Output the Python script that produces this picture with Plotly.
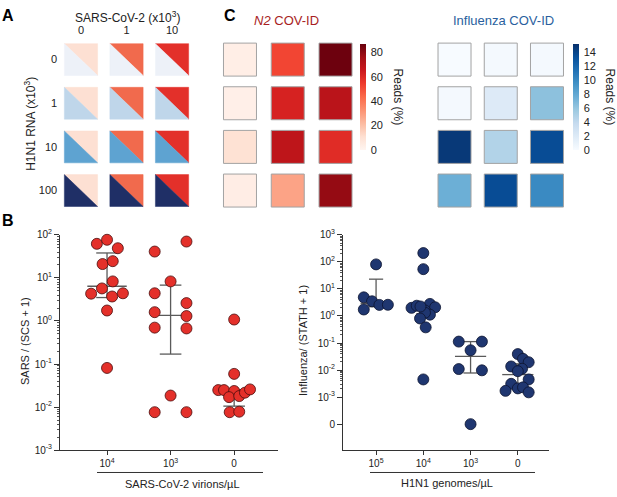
import plotly.graph_objects as go
from plotly.colors import sequential

W, H = 617, 497
FONT = "Liberation Sans, Arial, sans-serif"

# ---- panel A: mixing design ----
sars_levels = ["0", "1", "10"]
h1n1_levels = ["0", "1", "10", "100"]
sars_colors = ["#fde0d3", "#f16a4d", "#e3302a"]
h1n1_colors = ["#edf1f8", "#bfd6ea", "#5ea3d1", "#1f2f66"]

# ---- panel C: reads (%) per well, rows = H1N1 level, cols = SARS level ----
n2_reads = [
    [3.5, 52, 86],
    [3, 62, 70],
    [10, 69, 59],
    [4, 28, 79],
]
flu_reads = [
    [0, 0.2, 0.2],
    [0.2, 2, 6.3],
    [14.6, 4.7, 13.5],
    [7.5, 13.5, 9.9],
]

# ---- panel B left: SARS / (SCS + 1) ----
sars_groups = ["10<sup>4</sup>", "10<sup>3</sup>", "0"]
sars_vals = [
    [62, 77, 49, 21, 24.5, 8.3, 5.7, 4.3, 3.7, 4.4, 1.75, 0.081],
    [41, 70, 8.3, 4.4, 2.6, 1.6, 1.3, 0.70, 0.67, 0.0185, 0.0076, 0.0076],
    [1.08, 0.059, 0.0248, 0.0248, 0.0236, 0.017, 0.018, 0.0216, 0.0257, 0.0076, 0.0078],
]
sars_jitter = [
    [-0.16, 0, 0.17, -0.07, 0.09, 0.09, -0.08, -0.25, 0.08, 0.25, 0, 0],
    [-0.25, 0.25, 0, -0.25, 0.25, -0.25, 0.25, -0.25, 0.25, 0, -0.25, 0.25],
    [0, 0, -0.25, -0.16, 0, -0.08, 0.08, 0.17, 0.25, -0.07, 0.08],
]
sars_median = [6.4, 1.35, 0.021]
sars_low = [3.5, 0.17, 0.0105]
sars_high = [38, 6.8, 0.025]

# ---- panel B right: Influenza / (STATH + 1) ----
flu_groups = ["10<sup>5</sup>", "10<sup>4</sup>", "10<sup>3</sup>", "0"]
flu_vals = [
    [81, 4.9, 3.5, 2.57, 2.6, 1.74],
    [213, 54, 2.0, 2.4, 2.8, 2.1, 1.6, 1.12, 1.32, 0.81, 0.38, 0.0045, 2.25],
    [0.113, 0.113, 0.054, 0.0109, 0.0098, 0.0001],
    [0.039, 0.026, 0.0195, 0.0136, 0.0112, 0.0091, 0.0045, 0.0031, 0.0017, 0.0021, 0.0023, 0.0015],
]
flu_jitter = [
    [0, -0.26, -0.085, 0.07, 0.25, -0.26],
    [0, 0, -0.25, -0.14, 0.14, 0.25, 0.035, 0.14, 0.035, -0.07, 0.05, 0, -0.06],
    [-0.25, 0.24, 0, -0.25, 0.24, 0],
    [0, 0.11, 0.23, -0.14, 0.09, 0, 0.23, -0.14, -0.26, 0, 0.11, 0.23],
]
flu_median = [2.95, 1.9, 0.032, 0.0068]
flu_low = [2.2, 1.2, 0.0078, 0.0025]
flu_high = [23, 2.6, 0.113, 0.017]


def px_x(p):
    return p / W


def px_y(p):
    return 1 - p / H


fig = go.Figure()

# panel A triangles
h = 0.365
for r, hc in enumerate(h1n1_colors):
    for c, sc in enumerate(sars_colors):
        fig.add_trace(go.Scatter(
            x=[c - h, c + h, c + h, c - h], y=[r - h, r - h, r + h, r - h],
            fill="toself", fillcolor=sc, mode="lines",
            line=dict(color=sc, width=0.5), hoverinfo="skip",
            xaxis="x", yaxis="y",
        ))
        fig.add_trace(go.Scatter(
            x=[c - h, c - h, c + h, c - h], y=[r - h, r + h, r + h, r - h],
            fill="toself", fillcolor=hc, mode="lines",
            line=dict(color=hc, width=0.5), hoverinfo="skip",
            xaxis="x", yaxis="y",
        ))


# panel C heat maps as square markers
def grid_trace(values, scale, cmax, ticks, cb_left, axis):
    xs, ys, zs = [], [], []
    for r, row in enumerate(values):
        for c, v in enumerate(row):
            xs.append(c)
            ys.append(r)
            zs.append(v)
    return go.Scatter(
        x=xs, y=ys, mode="markers", xaxis="x" + axis, yaxis="y" + axis,
        marker=dict(
            symbol="square", size=33, color=zs, colorscale=scale,
            cmin=0, cmax=cmax, line=dict(color="#a3a3a3", width=1),
            colorbar=dict(
                x=px_x(cb_left), xanchor="left", xpad=0,
                y=px_y(38), yanchor="top", ypad=0,
                len=106, lenmode="pixels", thickness=6, thicknessmode="pixels",
                outlinewidth=0, tickvals=ticks, ticks="outside", ticklen=3,
                tickcolor="rgba(0,0,0,0)",
                tickfont=dict(family=FONT, size=11, color="#222"),
            ),
        ),
        hoverinfo="skip",
    )


fig.add_trace(grid_trace(n2_reads, sequential.Reds, 87, [0, 20, 40, 60, 80], 360, "2"))
fig.add_trace(grid_trace(flu_reads, sequential.Blues, 15.1, list(range(0, 15, 2)), 573, "3"))


# panel B dot plots
def bar_trace(medians, lows, highs, half_med, half_cap, axis):
    xs, ys = [], []
    for i, (m, lo, hi) in enumerate(zip(medians, lows, highs)):
        xs += [i - half_med, i + half_med, None, i, i, None,
               i - half_cap, i + half_cap, None, i - half_cap, i + half_cap, None]
        ys += [m, m, None, lo, hi, None, hi, hi, None, lo, lo, None]
    return go.Scatter(x=xs, y=ys, mode="lines", line=dict(color="#5a5a5a", width=1.3),
                      xaxis="x" + axis, yaxis="y" + axis, hoverinfo="skip")


def add_dots(vals, jitter, fill, edge, axis):
    # one trace per group
    for i, (vs, js) in enumerate(zip(vals, jitter)):
        fig.add_trace(go.Scatter(
            x=[i + j for j in js], y=vs, mode="markers",
            xaxis="x" + axis, yaxis="y" + axis,
            marker=dict(size=11, color=fill, opacity=1,
                        line=dict(color=edge, width=0.8)),
            hoverinfo="skip", cliponaxis=False,
        ))


fig.add_trace(bar_trace(sars_median, sars_low, sars_high, 0.31, 0.17, "4"))
add_dots(sars_vals, sars_jitter, "#e4302a", "#4a0c0c", "4")
fig.add_trace(bar_trace(flu_median, flu_low, flu_high, 0.33, 0.15, "5"))
add_dots(flu_vals, flu_jitter, "#1f3670", "#0c1430", "5")

grid_y = dict(domain=[px_y(210.9), px_y(31.6)], range=[3.5, -0.5],
              showgrid=False, zeroline=False, showline=False)


def minor_vals(lo, hi):
    out = []
    for e in range(lo, hi):
        out += [k * 10 ** e for k in range(2, 10)]
    return out


axis_font = dict(family=FONT, size=10, color="#222")
fig.update_layout(
    width=W, height=H, margin=dict(l=0, r=0, t=0, b=0),
    paper_bgcolor="white", plot_bgcolor="white", showlegend=False, hovermode=False,
    font=dict(family=FONT, color="#222"),
    xaxis=dict(domain=[px_x(58.2), px_x(194.8)], range=[-0.5, 2.5], side="top",
               tickvals=[0, 1, 2], ticktext=sars_levels, ticks="", showgrid=False,
               zeroline=False, showline=False, ticklabelstandoff=1,
               tickfont=dict(family=FONT, size=11)),
    yaxis=dict(grid_y, tickvals=[0, 1, 2, 3], ticktext=h1n1_levels, ticks="",
               tickfont=dict(family=FONT, size=11)),
    xaxis2=dict(domain=[px_x(216.1), px_x(359.4)], range=[-0.5, 2.5], visible=False),
    yaxis2=dict(grid_y, anchor="x2", visible=False),
    xaxis3=dict(domain=[px_x(431.4), px_x(570.1)], range=[-0.5, 2.5], visible=False),
    yaxis3=dict(grid_y, anchor="x3", visible=False),
    xaxis4=dict(domain=[px_x(60), px_x(278)], range=[-0.74, 2.69], anchor="y4",
                tickvals=[0, 1, 2], ticktext=sars_groups, ticks="outside", ticklen=4,
                tickcolor="#333", showline=True, linecolor="#333", linewidth=1,
                showgrid=False, zeroline=False, tickfont=axis_font),
    yaxis4=dict(domain=[px_y(455), px_y(234)], type="log", range=[-3, 2], anchor="x4",
                tickvals=[10 ** e for e in range(-3, 3)],
                ticktext=["10<sup>%d</sup>" % e for e in range(-3, 3)],
                ticks="outside", ticklen=5, tickcolor="#333",
                minor=dict(tickvals=minor_vals(-3, 2), ticks="outside", ticklen=2.5,
                           tickcolor="#555"),
                showline=True, linecolor="#333", linewidth=1,
                showgrid=False, zeroline=False, tickfont=axis_font),
    xaxis5=dict(domain=[px_x(343), px_x(549)], range=[-0.70, 3.66], anchor="y5",
                tickvals=[0, 1, 2, 3], ticktext=flu_groups, ticks="outside", ticklen=4,
                tickcolor="#333", showline=True, linecolor="#333", linewidth=1,
                showgrid=False, zeroline=False, tickfont=axis_font),
    yaxis5=dict(domain=[px_y(455), px_y(234)], type="log", range=[-4.96, 3], anchor="x5",
                tickvals=[10 ** e for e in range(-4, 4)],
                ticktext=["0"] + ["10<sup>%d</sup>" % e for e in range(-3, 4)],
                ticks="outside", ticklen=5, tickcolor="#333",
                minor=dict(tickvals=minor_vals(-3, 3), ticks="outside", ticklen=2.5,
                           tickcolor="#555"),
                showline=True, linecolor="#333", linewidth=1,
                showgrid=False, zeroline=False, tickfont=axis_font),
)


def note(text, x, y, size=11, color="#222", angle=0, xanchor="center", yanchor="middle"):
    fig.add_annotation(text=text, x=px_x(x), y=px_y(y), xref="paper", yref="paper",
                       showarrow=False, textangle=angle, xanchor=xanchor, yanchor=yanchor,
                       font=dict(family=FONT, size=size, color=color))


note("<b>A</b>", 8, 9, size=16, color="#000")
note("<b>B</b>", 8, 219, size=16, color="#000")
note("<b>C</b>", 230, 9, size=16, color="#000")
note("SARS-CoV-2 (x10<sup>3</sup>)", 127, 10, size=12)
note("H1N1 RNA (x10<sup>3</sup>)", 30, 120, size=12, angle=-90)
note("<i>N2</i> COV-ID", 286, 14, size=13, color="#a81e23")
note("Influenza COV-ID", 503, 14, size=13, color="#2a5f9e")
note("Reads (%)", 398, 92, size=12, angle=90)
note("Reads (%)", 610, 92, size=12, angle=90)
note("SARS / (SCS + 1)", 25, 343, size=11, angle=-90)
note("Influenza/ (STATH + 1)", 303, 343, size=11, angle=-90)
note("SARS-CoV-2 virions/µL", 182, 490, size=11)
note("H1N1 genomes/µL", 447, 489, size=11)

for x0, x1 in [(97, 263), (370, 535)]:
    fig.add_shape(type="line", xref="paper", yref="paper",
                  x0=px_x(x0), x1=px_x(x1), y0=px_y(478), y1=px_y(478),
                  line=dict(color="#333", width=1))

# the page's default body margin would shift the fixed-size figure
fig.write_html("out.html", config={"staticPlot": True},
               post_script="document.body.style.margin='0';document.body.style.overflow='hidden';")
